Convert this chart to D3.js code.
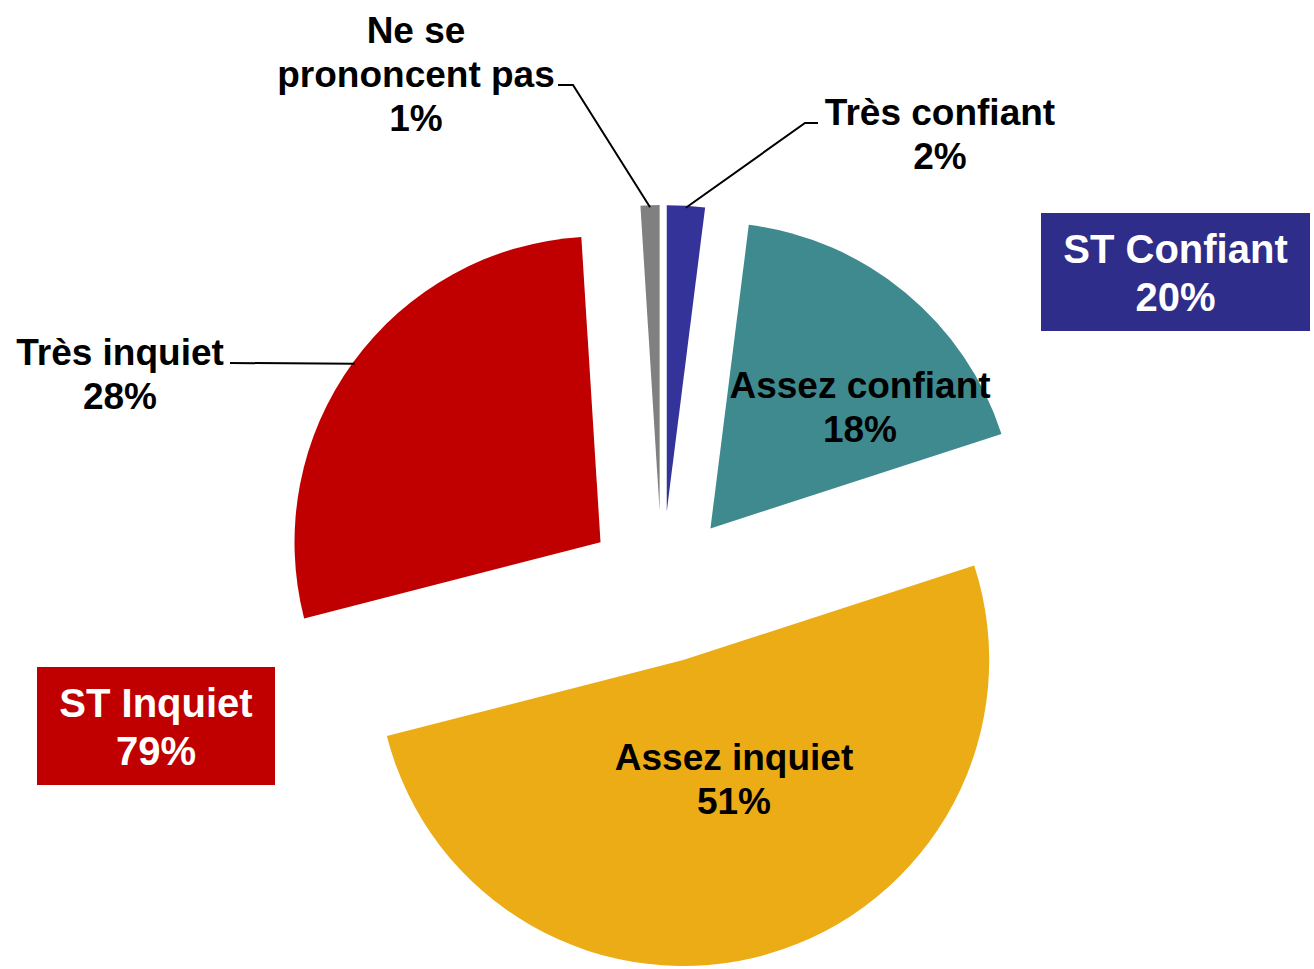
<!DOCTYPE html>
<html>
<head>
<meta charset="utf-8">
<script src="https://cdn.jsdelivr.net/npm/d3@7"></script>
<style>
  body { margin: 0; background: #fff; }
  svg { display: block; }
  text { font-family: "Liberation Sans", Arial, sans-serif; font-weight: bold; }
</style>
</head>
<body>
<div id="chart"></div>
<script>
// data, clockwise from 12 o'clock
const categories = ['Très confiant', 'Assez confiant', 'Assez inquiet', 'Très inquiet', 'Ne se prononcent pas'];
const values = [2, 18, 51, 28, 1];
const colors = ['#333399', '#3e8a8f', '#ebac16', '#c00000', '#808080'];

// sub-totals shown in the boxes
const groupNames = ['ST Confiant', 'ST Inquiet'];
const groupValues = [20, 79];
const groupColors = ['#2e2e8a', '#c00000'];

const width = 1314, height = 969;
const cx = 662, cy = 587;
const radius = 306;
const explode = 76;
const fontSize = 37;
const lineH = 44;

// label placement per slice: lines, centre x, first baseline, leader path (null = inside label)
const labelLayout = [
  { lines: ['Très confiant'], x: 940, y: 125, leader: [[805, 123], [818, 123]] },
  { lines: ['Assez confiant'], x: 860, y: 398, leader: null },
  { lines: ['Assez inquiet'], x: 734, y: 770, leader: null },
  { lines: ['Très inquiet'], x: 120, y: 365, leader: [[230, 363]] },
  { lines: ['Ne se', 'prononcent pas'], x: 416, y: 43, leader: [[573, 85], [558, 85]] }
];
const boxLayout = [
  { x: 1041, y: 213, w: 269, h: 118, y0: 263 },
  { x: 37, y: 667, w: 238, h: 118, y0: 717 }
];

const data = categories.map((c, i) => ({ name: c, value: values[i], color: colors[i] }));

const svg = d3.select('#chart').append('svg')
  .attr('width', width)
  .attr('height', height);

const pie = d3.pie().sort(null).value(d => d.value).startAngle(0).endAngle(2 * Math.PI);
const arc = d3.arc().innerRadius(0).outerRadius(radius);
const arcs = pie(data);

function offset(d, r) {
  let a = (d.startAngle + d.endAngle) / 2;
  return [Math.sin(a) * r, -Math.cos(a) * r];
}

const g = svg.append('g').attr('transform', 'translate(' + cx + ',' + cy + ')');

g.selectAll('path.slice')
  .data(arcs)
  .enter()
  .append('path')
  .attr('class', 'slice')
  .attr('d', arc)
  .attr('fill', d => d.data.color)
  .attr('transform', d => 'translate(' + offset(d, explode).join(',') + ')');

// leader lines from the middle of the outer arc to the label
arcs.forEach((d, i) => {
  let lay = labelLayout[i];
  if (!lay.leader) return;
  let o = offset(d, explode + radius - 2);
  let pts = [[cx + o[0], cy + o[1]]].concat(lay.leader);
  svg.append('path')
    .attr('d', d3.line()(pts))
    .attr('fill', 'none')
    .attr('stroke', '#000')
    .attr('stroke-width', 2);
});

// slice labels
arcs.forEach((d, i) => {
  let lay = labelLayout[i];
  let lines = lay.lines.concat([d.data.value + '%']);
  let t = svg.append('text')
    .attr('text-anchor', 'middle')
    .attr('font-size', fontSize + 'px')
    .attr('fill', '#000');
  lines.forEach((l, j) => {
    t.append('tspan')
      .attr('x', lay.x)
      .attr('y', lay.y + j * lineH)
      .text(l);
  });
});

// sub-total boxes
groupNames.forEach((name, i) => {
  let b = boxLayout[i];
  svg.append('rect')
    .attr('x', b.x)
    .attr('y', b.y)
    .attr('width', b.w)
    .attr('height', b.h)
    .attr('fill', groupColors[i]);
  let t = svg.append('text')
    .attr('text-anchor', 'middle')
    .attr('font-size', '40px')
    .attr('fill', '#fff');
  [name, groupValues[i] + '%'].forEach((l, j) => {
    t.append('tspan')
      .attr('x', b.x + b.w / 2)
      .attr('y', b.y0 + j * 48)
      .text(l);
  });
});
</script>
</body>
</html>
